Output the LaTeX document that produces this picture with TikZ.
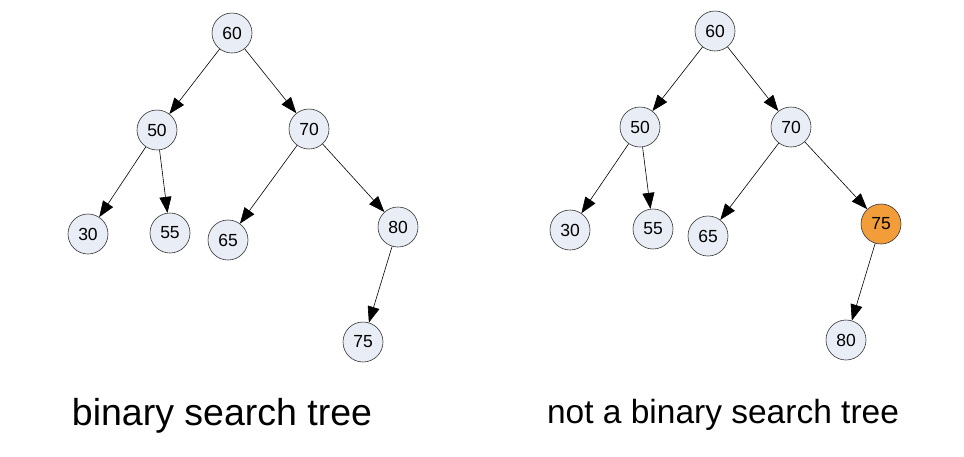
\documentclass[tikz,border=0pt]{standalone}
\usepackage{fontspec}
\setmainfont{Liberation Sans}
\usetikzlibrary{arrows.meta}
\definecolor{nodefill}{HTML}{E9EDF6}
\definecolor{hot}{HTML}{F29D3A}
\begin{document}
\begin{tikzpicture}[x=1pt,y=-1pt,
  tn/.style={circle,draw=black!80,line width=0.6pt,fill=nodefill,minimum size=40pt,inner sep=0pt,font=\fontsize{17.5}{20}\selectfont},
  hn/.style={tn,fill=hot},
  edge/.style={line width=0.6pt,-{Triangle[length=16pt,width=12pt]}},
  captext/.style={font=\fontsize{37.5}{42}\selectfont}]
\useasboundingbox (0,0) rectangle (964,456);
% left tree
\node[tn] (a60) at (232,33) {60};
\node[tn] (a50) at (157,130) {50};
\node[tn] (a70) at (309,129) {70};
\node[tn] (a30) at (88,234) {30};
\node[tn] (a55) at (170,233) {55};
\node[tn] (a65) at (228,240) {65};
\node[tn] (a80) at (398,227) {80};
\node[tn] (a75) at (363,342) {75};
\draw[edge] (a60) -- (a50);
\draw[edge] (a60) -- (a70);
\draw[edge] (a50) -- (a30);
\draw[edge] (a50) -- (a55);
\draw[edge] (a70) -- (a65);
\draw[edge] (a70) -- (a80);
\draw[edge] (a80) -- (a75);
% right tree
\node[tn] (b60) at (715,31) {60};
\node[tn] (b50) at (640,127) {50};
\node[tn] (b70) at (791,127) {70};
\node[tn] (b30) at (570,230) {30};
\node[tn] (b55) at (653,229) {55};
\node[tn] (b65) at (708,236) {65};
\node[hn] (b75) at (881,224) {75};
\node[tn] (b80) at (846,340) {80};
\draw[edge] (b60) -- (b50);
\draw[edge] (b60) -- (b70);
\draw[edge] (b50) -- (b30);
\draw[edge] (b50) -- (b55);
\draw[edge] (b70) -- (b65);
\draw[edge] (b70) -- (b75);
\draw[edge] (b75) -- (b80);
% captions
\node[captext] (capa) at (222,416) {binary search tree};
\node[captext,font=\fontsize{33.5}{38}\selectfont] (capb) at (723,415) {not a binary search tree};
\end{tikzpicture}
\end{document}
